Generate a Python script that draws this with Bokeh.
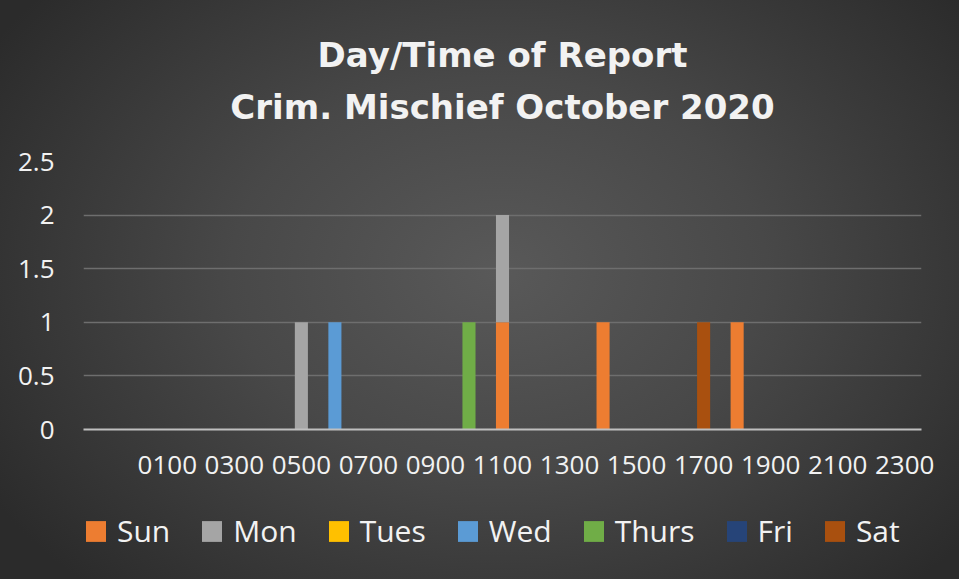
from bokeh.plotting import figure
from bokeh.layouts import column
from bokeh.models import (ColumnDataSource, Range1d, Legend, LegendItem,
                          Title, FixedTicker, LinearAxis)
from bokeh.embed import file_html
from bokeh.resources import INLINE

# ---- data ----
hours = [" ", "0000", "0100", "0200", "0300", "0400", "0500", "0600", "0700", "0800",
         "0900", "1000", "1100", "1200", "1300", "1400", "1500", "1600", "1700", "1800",
         "1900", "2000", "2100", "2200", "2300"]
days = ["Sun", "Mon", "Tues", "Wed", "Thurs", "Fri", "Sat"]
sun   = [0, 0, 0, 0, 0, 0, 0, 0, 0, 0, 0, 0, 1, 0, 0, 1, 0, 0, 0, 1, 0, 0, 0, 0, 0]
mon   = [0, 0, 0, 0, 0, 0, 1, 0, 0, 0, 0, 0, 1, 0, 0, 0, 0, 0, 0, 0, 0, 0, 0, 0, 0]
tues  = [0, 0, 0, 0, 0, 0, 0, 0, 0, 0, 0, 0, 0, 0, 0, 0, 0, 0, 0, 0, 0, 0, 0, 0, 0]
wed   = [0, 0, 0, 0, 0, 0, 0, 1, 0, 0, 0, 0, 0, 0, 0, 0, 0, 0, 0, 0, 0, 0, 0, 0, 0]
thurs = [0, 0, 0, 0, 0, 0, 0, 0, 0, 0, 0, 1, 0, 0, 0, 0, 0, 0, 0, 0, 0, 0, 0, 0, 0]
fri   = [0, 0, 0, 0, 0, 0, 0, 0, 0, 0, 0, 0, 0, 0, 0, 0, 0, 0, 0, 0, 0, 0, 0, 0, 0]
sat   = [0, 0, 0, 0, 0, 0, 0, 0, 0, 0, 0, 0, 0, 0, 0, 0, 0, 0, 1, 0, 0, 0, 0, 0, 0]
y_ticks = [0, 0.5, 1, 1.5, 2, 2.5]
y_tick_labels = ["0", "0.5", "1", "1.5", "2", "2.5"]
shown_x_labels = ["0100", "0300", "0500", "0700", "0900", "1100", "1300", "1500",
                  "1700", "1900", "2100", "2300"]
title_lines = ["Day/Time of Report", "Crim. Mischief October 2020"]

colors = ["#ED7D31", "#A5A5A5", "#FFC000", "#5B9BD5", "#70AD47", "#264478", "#A9500F"]

pos = list(range(len(hours)))
source = ColumnDataSource(dict(x=pos, hour=hours, Sun=sun, Mon=mon, Tues=tues, Wed=wed,
                               Thurs=thurs, Fri=fri, Sat=sat))

FONT = "Open Sans"
TXT = "#f2f2f2"

# ---- main chart ----
p = figure(width=959, height=500, x_range=Range1d(-0.5, len(hours) - 0.5),
           y_range=Range1d(y_ticks[0], y_ticks[-1]), output_backend="svg",
           toolbar_location=None,
           min_border_left=83, min_border_right=38, min_border_top=161,
           min_border_bottom=71)
p.background_fill_alpha = 0
p.border_fill_alpha = 0
p.outline_line_alpha = 0

renderers = p.vbar_stack(days, x="x", width=0.39, source=source, fill_color=colors,
                         line_color=None)

xax = p.below[0]
tick_pos = [hours.index(h) for h in shown_x_labels]
xax.ticker = FixedTicker(ticks=tick_pos)
xax.major_label_overrides = {i: hours[i] for i in tick_pos}
xax.major_label_text_font = FONT
xax.major_label_text_font_size = "26px"
xax.major_label_text_color = TXT
xax.major_label_standoff = 20
xax.axis_line_color = "#bfbfbf"
xax.axis_line_width = 2
xax.major_tick_line_color = None
xax.minor_tick_line_color = None

yax = p.left[0]
yax.ticker = FixedTicker(ticks=y_ticks)
yax.major_label_overrides = {t: l for t, l in zip(y_ticks, y_tick_labels)}
yax.major_label_text_font = FONT
yax.major_label_text_font_size = "26px"
yax.major_label_text_color = TXT
yax.major_tick_out = 0
yax.major_label_standoff = 29
yax.axis_line_color = None
yax.major_tick_line_color = None
yax.minor_tick_line_color = None

p.xgrid.grid_line_color = None
p.ygrid.grid_line_color = "#6e6e6e"
p.ygrid.grid_line_width = 1.5

# invisible gap between the plot area and the two title lines
spacer = LinearAxis(ticker=FixedTicker(ticks=[0]), major_label_overrides={0: ""},
                    major_label_text_font_size="1px", axis_line_color=None,
                    major_tick_line_color=None, minor_tick_line_color=None,
                    major_tick_out=24, major_tick_in=0, minor_tick_out=0,
                    major_label_standoff=0)
p.add_layout(spacer, "above")
t2 = Title(text=title_lines[1], align="center", text_font="DejaVu Sans",
           text_font_size="34px", text_font_style="bold", text_color=TXT, standoff=21)
t1 = Title(text=title_lines[0], align="center", text_font="DejaVu Sans",
           text_font_size="34px", text_font_style="bold", text_color=TXT, standoff=0)
p.add_layout(t2, "above")
p.add_layout(t1, "above")

# ---- legend strip (same series as zero-height keys, out of view) ----
p2 = figure(width=959, height=79, x_range=Range1d(-0.5, len(hours) - 0.5),
            y_range=Range1d(10, 11),
            x_axis_location=None, y_axis_location=None, output_backend="svg",
            toolbar_location=None, min_border=0)
p2.background_fill_alpha = 0
p2.border_fill_alpha = 0
p2.outline_line_alpha = 0
p2.grid.visible = False
key_renderers = [p2.vbar(x="x", bottom=d, top=d, width=0.39, source=source,
                         fill_color=c, line_color=None)
                 for d, c in zip(days, colors)]

legend = Legend(items=[LegendItem(label=d, renderers=[r]) for d, r in zip(days, key_renderers)],
                orientation="horizontal", location=(0, 28),
                glyph_width=25, glyph_height=26, label_standoff=9, spacing=29,
                label_text_font=FONT, label_text_font_size="30px", label_text_color=TXT,
                background_fill_alpha=0, border_line_alpha=0, padding=0, margin=0)
p2.add_layout(legend)

layout = column(p, p2, spacing=0)
layout.styles = {"background": "radial-gradient(ellipse 62% 75% at 52% 47%, #595959 0%, #484848 45%, #2b2b2b 100%)"}

open("out.html", "w").write(file_html(layout, INLINE))
